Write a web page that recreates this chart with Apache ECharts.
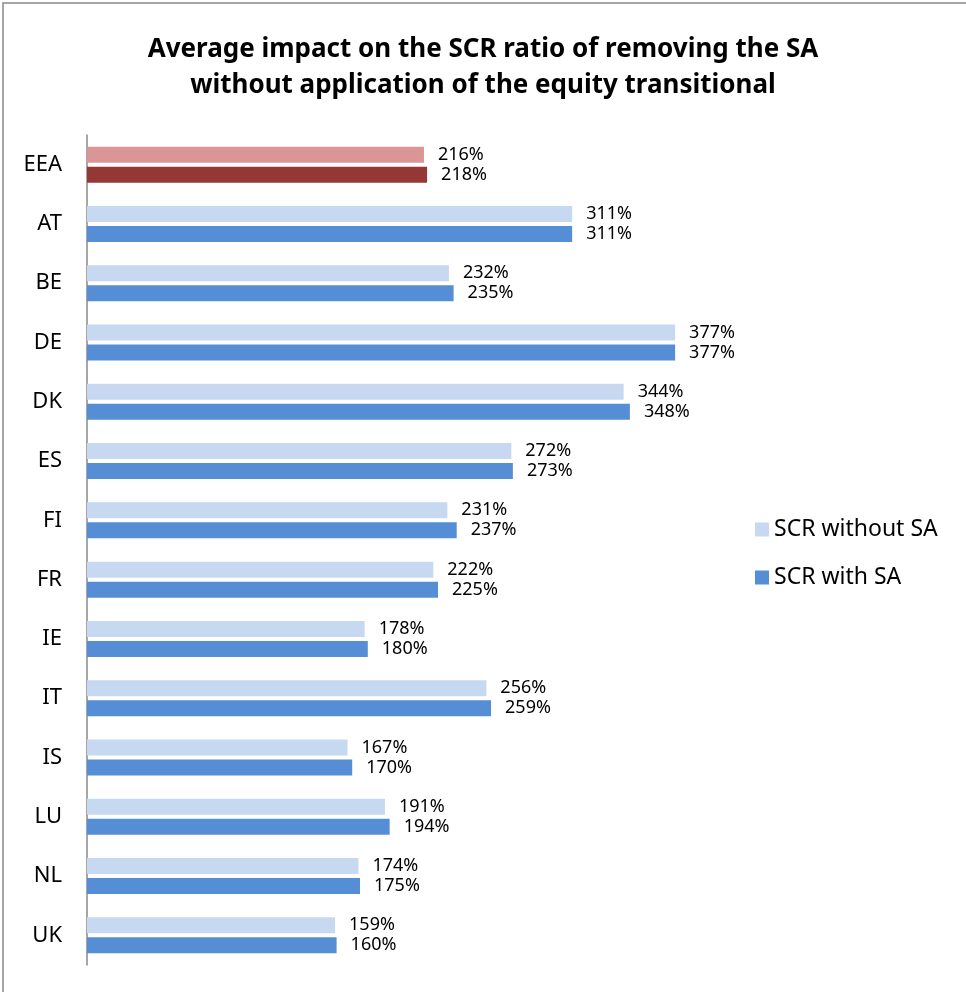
<!DOCTYPE html>
<html>
<head>
<meta charset="utf-8">
<script src="https://cdn.jsdelivr.net/npm/echarts@6/dist/echarts.min.js"></script>
<style>
  html, body { margin: 0; padding: 0; background: #fff; }
  #chart { width: 966px; height: 992px; }
</style>
</head>
<body>
<div id="chart"></div>
<script>
var countries = ['EEA', 'AT', 'BE', 'DE', 'DK', 'ES', 'FI', 'FR', 'IE', 'IT', 'IS', 'LU', 'NL', 'UK'];
var scrWithout = [216, 311, 232, 377, 344, 272, 231, 222, 178, 256, 167, 191, 174, 159];
var scrWith = [218, 311, 235, 377, 348, 273, 237, 225, 180, 259, 170, 194, 175, 160];

var chart = echarts.init(document.getElementById('chart'));
var font = '"Noto Sans", sans-serif';

// EEA row gets its own red shades
function withHighlight(values, eeaColor) {
    return values.map(function (v, i) {
        if (countries[i] === 'EEA') {
            return { value: v, itemStyle: { color: eeaColor } };
        }
        return v;
    });
}

var option = {
    animation: false,
    backgroundColor: '#fff',
    title: {
        text: 'Average impact on the SCR ratio of removing the SA\nwithout application of the equity transitional',
        left: 'center',
        top: 27,
        textStyle: {
            fontFamily: font,
            fontSize: 26,
            fontWeight: 'bold',
            color: '#000',
            lineHeight: 36
        }
    },
    legend: {
        orient: 'vertical',
        left: 750,
        top: 513,
        itemWidth: 14,
        itemHeight: 14,
        itemGap: 25,
        icon: 'rect',
        textStyle: { fontFamily: font, fontSize: 23, color: '#000' },
        data: ['SCR without SA', 'SCR with SA']
    },
    graphic: [{
        type: 'rect',
        shape: { x: 3, y: 3, width: 970, height: 1000 },
        style: { fill: 'none', stroke: '#888', lineWidth: 1.5 },
        silent: true
    }],
    grid: {
        left: 87,
        top: 135,
        width: 624,
        height: 830
    },
    xAxis: {
        type: 'value',
        min: 0,
        max: 400,
        show: false
    },
    yAxis: {
        type: 'category',
        inverse: true,
        data: countries,
        axisLine: { lineStyle: { color: '#888', width: 1.5 } },
        axisTick: { show: false },
        axisLabel: { fontFamily: font, fontSize: 22, color: '#000', margin: 25 }
    },
    series: [{
        name: 'SCR without SA',
        type: 'bar',
        barWidth: 16,
        barGap: '25%',
        itemStyle: { color: '#C6D9F1' },
        label: {
            show: true,
            position: 'right',
            distance: 14,
            formatter: '{c}%',
            fontFamily: font,
            fontSize: 18,
            color: '#000'
        },
        data: withHighlight(scrWithout, '#D99694')
    }, {
        name: 'SCR with SA',
        type: 'bar',
        barWidth: 16,
        barGap: '25%',
        itemStyle: { color: '#558ED5' },
        label: {
            show: true,
            position: 'right',
            distance: 14,
            formatter: '{c}%',
            fontFamily: font,
            fontSize: 18,
            color: '#000'
        },
        data: withHighlight(scrWith, '#953735')
    }]
};

chart.setOption(option);
</script>
</body>
</html>
